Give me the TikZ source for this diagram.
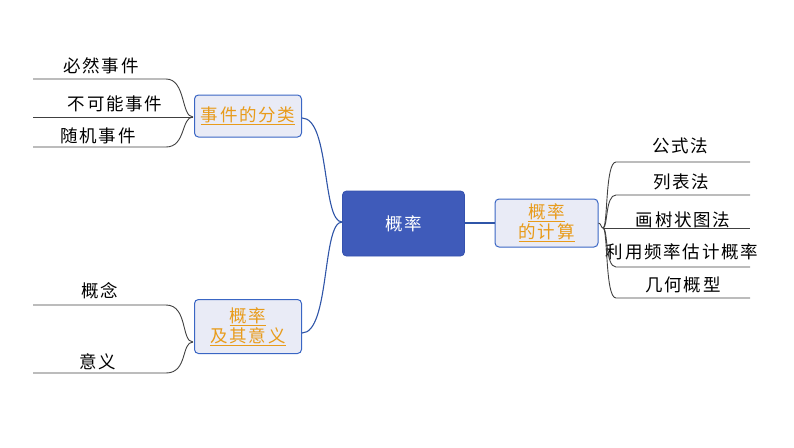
\documentclass[tikz,border=0pt]{standalone}
\usepackage{fontspec}
\setmainfont{Noto Sans CJK SC}
\newfontfamily\cjk{Noto Sans CJK SC}[LetterSpace=10]
\definecolor{centerfill}{HTML}{3F5BBA}
\definecolor{centerdraw}{HTML}{3552AE}
\definecolor{boxfill}{HTML}{E9EBF6}
\definecolor{boxdraw}{HTML}{3A66C4}
\definecolor{linkblue}{HTML}{2F55A8}
\definecolor{orangetext}{HTML}{E89B1A}
\definecolor{leafgray}{HTML}{404040}
\begin{document}
\begin{tikzpicture}[x=1pt,y=-1pt,
  centerbox/.style={draw=centerdraw,fill=centerfill,rounded corners=4pt,line width=0.8pt,
    text=white,font=\cjk\fontsize{17.5}{20}\selectfont},
  subbox/.style={draw=boxdraw,fill=boxfill,rounded corners=4pt,line width=1pt,
    text=orangetext,font=\cjk\fontsize{17.5}{22}\selectfont,align=center},
  leaftext/.style={text=black,font=\cjk\fontsize{17.5}{20}\selectfont,inner sep=0pt},
  bluelink/.style={draw=linkblue,line width=1.1pt},
  leafline/.style={draw=leafgray,line width=0.9pt}]
\useasboundingbox (0,0) rectangle (794,447);
% nodes
\node[centerbox,minimum width=122pt,minimum height=65pt] (root) at (403.5,223.5) {概率};
\node[subbox,minimum width=107pt,minimum height=42pt] (cls) at (248,116) {\underline{事件的分类}};
\node[subbox,minimum width=107pt,minimum height=54pt] (mean) at (248,326.5) {\underline{概率}\\[-2pt]\underline{及其意义}};
\node[subbox,minimum width=103pt,minimum height=48pt] (calc) at (546.5,223) {\underline{概率}\\[-2pt]\underline{的计算}};
% leaf texts
\node[leaftext] (t1) at (101,66) {必然事件};
\node[leaftext] (t2) at (115,104) {不可能事件};
\node[leaftext] (t3) at (98,136) {随机事件};
\node[leaftext] (t4) at (100,291) {概念};
\node[leaftext] (t5) at (98,362) {意义};
\node[leaftext] (r1) at (680,146) {公式法};
\node[leaftext] (r2) at (681,182) {列表法};
\node[leaftext] (r3) at (683,220) {画树状图法};
\node[leaftext] (r4) at (682,252) {利用频率估计概率};
\node[leaftext] (r5) at (683,285) {几何概型};
% coordinates
\coordinate (rootw) at (342,222);
\coordinate (clse) at (302,118);
\coordinate (meane) at (302,333);
\coordinate (clsw) at (193,117);
\coordinate (meanw) at (193,342);
\coordinate (calcj) at (603,228);
\coordinate (e1) at (33,79);
\coordinate (e2) at (33,117);
\coordinate (e3) at (33,147);
\coordinate (e4) at (33,305);
\coordinate (e5) at (33,373);
\coordinate (f1) at (750,162);
\coordinate (f2) at (750,195);
\coordinate (f3) at (750,228);
\coordinate (f4) at (750,267);
\coordinate (f5) at (750,298);
% blue links
\draw[bluelink] (rootw) .. controls (322,222) and (330,118) .. (clse);
\draw[bluelink] (rootw) .. controls (322,222) and (330,333) .. (meane);
\draw[bluelink] (root.east |- calc.west) -- (calc.west);
% left leaf lines
\draw[leafline] (clsw) .. controls (181,117) and (186,79) .. (166,79) -- (e1);
\draw[leafline] (clsw) -- (e2);
\draw[leafline] (clsw) .. controls (181,117) and (186,147) .. (166,147) -- (e3);
\draw[leafline] (meanw) .. controls (181,342) and (188,305) .. (166,305) -- (e4);
\draw[leafline] (meanw) .. controls (181,342) and (188,373) .. (166,373) -- (e5);
% right leaf lines
\draw[leafline] (calc.east) .. controls (601,223) and (601,228) .. (calcj);
\draw[leafline] (calcj) .. controls (608,228) and (605,162) .. (616,162) -- (f1);
\draw[leafline] (calcj) .. controls (608,228) and (605,195) .. (616,195) -- (f2);
\draw[leafline] (calcj) -- (f3);
\draw[leafline] (calcj) .. controls (608,228) and (605,267) .. (616,267) -- (f4);
\draw[leafline] (calcj) .. controls (608,228) and (605,298) .. (616,298) -- (f5);
\end{tikzpicture}
\end{document}
